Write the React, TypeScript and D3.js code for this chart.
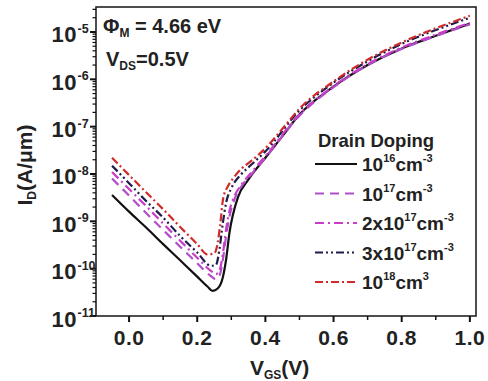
import React from 'react';
import * as d3 from 'd3';

// ---- data ----
const vgs16 = [-0.05, 0, 0.05, 0.1, 0.15, 0.2, 0.23, 0.245, 0.26, 0.275, 0.285, 0.295, 0.305, 0.32, 0.35, 0.4, 0.45, 0.5, 0.6, 0.7, 0.8, 0.9, 1.0];
const id16 = [3.6e-9, 1.6e-9, 7.4e-10, 3.3e-10, 1.5e-10, 6.8e-11, 4.2e-11, 3.4e-11, 3.8e-11, 6.5e-11, 1.6e-10, 6e-10, 1.4e-9, 3.3e-9, 7.6e-9, 2.2e-8, 6.3e-8, 1.8e-7, 7e-7, 2e-6, 4.5e-6, 8.3e-6, 1.5e-5];

const vgs17 = [-0.05, 0, 0.05, 0.1, 0.15, 0.2, 0.24, 0.255, 0.265, 0.275, 0.285, 0.295, 0.31, 0.33, 0.36, 0.4, 0.5, 0.6, 0.7, 0.8, 0.9, 1.0];
const id17 = [8e-9, 3.5e-9, 1.5e-9, 6.6e-10, 2.9e-10, 1.3e-10, 7e-11, 6e-11, 7e-11, 1.5e-10, 5e-10, 1.3e-9, 3e-9, 5.5e-9, 1e-8, 2.2e-8, 1.7e-7, 6.8e-7, 2e-6, 4.4e-6, 8.2e-6, 1.45e-5];

const vgs2x17 = [-0.05, 0, 0.05, 0.1, 0.15, 0.2, 0.24, 0.255, 0.265, 0.275, 0.285, 0.295, 0.31, 0.33, 0.36, 0.4, 0.5, 0.6, 0.7, 0.8, 0.9, 1.0];
const id2x17 = [1.1e-8, 4.8e-9, 2.1e-9, 9e-10, 3.9e-10, 1.7e-10, 9e-11, 7.7e-11, 9e-11, 2e-10, 7e-10, 1.7e-9, 3.5e-9, 6e-9, 1.1e-8, 2.4e-8, 1.8e-7, 7.2e-7, 2.1e-6, 4.7e-6, 8.8e-6, 1.55e-5];

const vgs3x17 = [-0.05, 0, 0.05, 0.1, 0.15, 0.2, 0.24, 0.255, 0.265, 0.275, 0.285, 0.3, 0.33, 0.36, 0.4, 0.5, 0.6, 0.7, 0.8, 0.9, 1.0];
const id3x17 = [1.5e-8, 6.4e-9, 2.7e-9, 1.2e-9, 4.9e-10, 2.2e-10, 1.15e-10, 1.2e-10, 2.5e-10, 9e-10, 2.5e-9, 5e-9, 1e-8, 1.6e-8, 3e-8, 2.2e-7, 8.5e-7, 2.4e-6, 5.6e-6, 1.1e-5, 2e-5];

const vgs18 = [-0.05, 0, 0.05, 0.1, 0.15, 0.2, 0.23, 0.25, 0.26, 0.267, 0.276, 0.29, 0.305, 0.33, 0.355, 0.4, 0.45, 0.5, 0.6, 0.7, 0.8, 0.9, 1.0];
const id18 = [2.2e-8, 9.5e-9, 4.1e-9, 1.8e-9, 7.6e-10, 3.3e-10, 2e-10, 2.1e-10, 3.5e-10, 8e-10, 3e-9, 5.5e-9, 8e-9, 1.3e-8, 1.8e-8, 3.5e-8, 9e-8, 2.4e-7, 9e-7, 2.6e-6, 6e-6, 1.2e-5, 2.2e-5];

const xTicks = [0.0, 0.2, 0.4, 0.6, 0.8, 1.0];
const yTickExps = [-11, -10, -9, -8, -7, -6, -5];

const seriesNames = ['16', '17', '2x17', '3x17', '18'];

const series = [
  { key: '16', x: vgs16, y: id16, color: '#111111', dash: '', pre: '', exp: '16', unitExp: '-3' },
  { key: '17', x: vgs17, y: id17, color: '#b050c8', dash: '9,6', pre: '', exp: '17', unitExp: '-3' },
  { key: '2x17', x: vgs2x17, y: id2x17, color: '#c83cc8', dash: '9,4,2,4', pre: '2x', exp: '17', unitExp: '-3' },
  { key: '3x17', x: vgs3x17, y: id3x17, color: '#1c1c4c', dash: '8,3,2,3,2,3', pre: '3x', exp: '17', unitExp: '-3' },
  { key: '18', x: vgs18, y: id18, color: '#d02a2a', dash: '8,3,2,3', pre: '', exp: '18', unitExp: '3' },
];

const W = 488, H = 381;
const L = 96, R = 476, T = 7, B = 316;
const FONT = '"Liberation Sans", Arial, sans-serif';

export default function App() {
  const x = d3.scaleLinear().domain([-0.097, 1.018]).range([L, R]);
  const y = d3.scaleLog().domain([1e-11, 3.37e-5]).range([B, T]);

  const line = d3.line<[number, number]>()
    .x(d => x(d[0]))
    .y(d => y(d[1]))
    .curve(d3.curveMonotoneX);

  const minorX = d3.range(-0.1, 1.05, 0.1).map(v => Math.round(v * 10) / 10).filter(v => v >= -0.097 && v <= 1.018 && !xTicks.some(t => Math.abs(t - v) < 1e-6));
  const minorY: number[] = [];
  for (let e = -11; e <= -5; e++) {
    for (let m = 2; m <= 9; m++) {
      const v = m * Math.pow(10, e);
      if (v <= 3.37e-5) minorY.push(v);
    }
  }

  return (
    <svg width={W} height={H} style={{ position: 'absolute', left: 0, top: 0, background: '#fff' }} fontFamily={FONT}>
      <rect x={0} y={0} width={W} height={H} fill="#fff" />
      <defs>
        <clipPath id="plot">
          <rect x={L} y={T} width={R - L} height={B - T} />
        </clipPath>
      </defs>

      {/* curves */}
      <g clipPath="url(#plot)">
        {series.map(s => (
          <path key={s.key}
            d={line(s.x.map((v, i) => [v, s.y[i]] as [number, number])) || ''}
            fill="none" stroke={s.color} strokeWidth={2.2}
            strokeDasharray={s.dash || undefined} />
        ))}
      </g>

      {/* frame */}
      <rect x={L} y={T} width={R - L} height={B - T} fill="none" stroke="#222" strokeWidth={1.6} />

      {/* x ticks */}
      {xTicks.map(t => (
        <g key={'xt' + t}>
          <line x1={x(t)} x2={x(t)} y1={B} y2={B + 6} stroke="#111" strokeWidth={2} />
          <text x={x(t)} y={345} textAnchor="middle" fontSize={21} fontWeight="bold" fill="#222" letterSpacing={0.5}>{t.toFixed(1)}</text>
        </g>
      ))}
      {minorX.map(t => (
        <line key={'xm' + t} x1={x(t)} x2={x(t)} y1={B} y2={B + 4} stroke="#111" strokeWidth={1.5} />
      ))}

      {/* y ticks */}
      {yTickExps.map(e => {
        const yy = y(Math.pow(10, e));
        return (
          <g key={'yt' + e}>
            <line x1={L - 6} x2={L} y1={yy} y2={yy} stroke="#111" strokeWidth={2} />
            <text x={77} y={yy + 10.5} textAnchor="end" fontSize={22} fontWeight="bold" fill="#222" letterSpacing={0.5}>10</text>
            <text x={77.5} y={yy + 1} textAnchor="start" fontSize={12.5} fontWeight="bold" fill="#222">{String(e)}</text>
          </g>
        );
      })}
      {minorY.map((v, i) => (
        <line key={'ym' + i} x1={L - 3.5} x2={L} y1={y(v)} y2={y(v)} stroke="#111" strokeWidth={1.2} />
      ))}

      {/* axis titles */}
      <text x={250} y={375} fontSize={21} fontWeight="bold" fill="#222">
        V<tspan fontSize={12} dy={4}>GS</tspan><tspan dy={-4}>(V)</tspan>
      </text>
      <text transform="translate(32,165) rotate(-90)" textAnchor="middle" fontSize={21} fontWeight="bold" fill="#222">
        I<tspan fontSize={12} dy={4}>D</tspan><tspan dy={-4}>(A/μm)</tspan>
      </text>

      {/* annotations */}
      <text x={103} y={33} fontSize={20} fontWeight="bold" fill="#222">
        Φ<tspan fontSize={12} dy={4}>M</tspan><tspan dy={-4}> = 4.66 eV</tspan>
      </text>
      <text x={106} y={66} fontSize={20} fontWeight="bold" fill="#222">
        V<tspan fontSize={12} dy={4}>DS</tspan><tspan dy={-4}>=0.5V</tspan>
      </text>

      {/* legend */}
      <text x={318} y={147} fontSize={18.5} fontWeight="bold" fill="#222">Drain Doping</text>
      {series.map((s, i) => {
        const by = 171 + i * 29.5;
        return (
          <g key={'lg' + s.key}>
            <line x1={315} x2={357} y1={by - 7} y2={by - 7} stroke={s.color} strokeWidth={2.2} strokeDasharray={s.dash || undefined} />
            <text x={362} y={by} fontSize={19} fontWeight="bold" fill="#222">
              {s.pre}10<tspan fontSize={11} dy={-9}>{s.exp}</tspan><tspan dy={9}>cm</tspan><tspan fontSize={11} dy={-9}>{s.unitExp}</tspan>
            </text>
          </g>
        );
      })}
    </svg>
  );
}
